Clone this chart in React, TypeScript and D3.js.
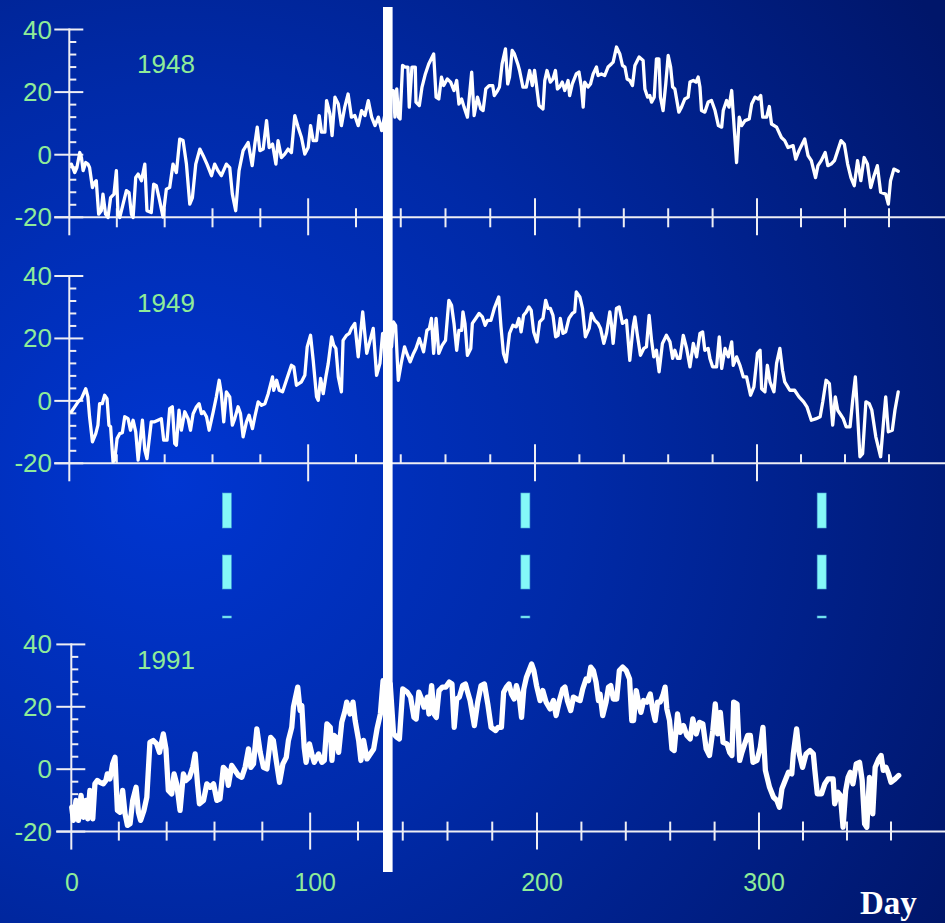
import { useEffect } from 'react';
import * as d3 from 'd3';

type Pt = [number, number];

// daily temperature readings, [day of year, value]
const temp1948: Pt[] = [
  [1, -3], [2.4, -5.7], [3.3, -4.1], [4.5, 0.7], [5.2, -0.9], [5.9, -5.1], [7, -2.5], [7.9, -3], [8.6, -4.1],
  [9.8, -10.5], [10.7, -8.9], [11.4, -8.3], [12.4, -19], [13.5, -17.9], [14.2, -12.6], [15.3, -19], [16.3, -20.1],
  [17.4, -13.7], [18.8, -12.6], [19.8, -5.1], [20.5, -19], [21.2, -20.1], [22.6, -15.8], [24, -11.5], [25.1, -12.1],
  [26.1, -19], [26.8, -20.1], [27.9, -7.3], [28.9, -6.2], [30.3, -8.3], [31.7, -3], [32.6, -17.9], [34.4, -18.5],
  [35.4, -9.4], [36.5, -9.9], [37.9, -14.7], [39.3, -19.9], [40.7, -11], [42.1, -10.5], [43.5, -3], [44.9, -5.7],
  [46.3, 5], [47.7, 4.5], [49.1, -3], [50.5, -15.8], [51.6, -13.7], [53, -3], [54.7, 1.8], [56.1, -0.3], [57.7, -3],
  [59.6, -6.7], [60.9, -3], [62.3, -5.1], [63.7, -6.7], [65.8, -3], [67.2, -4.1], [68.3, -12.6], [69.7, -17.9],
  [71.1, -5.1], [72.8, 1.3], [74.9, 3.9], [76.6, -3.5], [77.7, 3.4], [78.7, 8.8], [79.8, 1.3], [81.2, 1.8],
  [82.6, 10.9], [83.7, 2.3], [85.1, 3.4], [86.5, -3], [87.4, 4.5], [88.8, -0.9], [90.2, 0.2], [91.6, 1.8], [93, 0.7],
  [94.4, 12.5], [95.8, 8.8], [97.2, 5.5], [98.6, 0.2], [100, 2.3], [101, 9.3], [102.1, 4.5], [103.5, 4.5],
  [104.6, 12.5], [105.6, 7.2], [107, 7.2], [107.7, 17.3], [109.1, 13], [110, 6.1], [111.2, 18.4], [112.6, 16.2],
  [113.9, 9.3], [115.3, 15.2], [116.7, 19.4], [118.1, 12], [119.5, 12.5], [121, 9.3], [122.5, 14.1], [124, 12.5],
  [125.5, 17.3], [127, 12], [128.5, 9.3], [130, 12], [131.5, 7.7], [133.5, 15], [135.2, 20.5], [136.7, 20.5],
  [137.4, 12], [138.2, 21], [139, 12], [139.7, 11.4], [140.8, 28.5], [142, 28], [143.2, 28], [143.8, 15.2],
  [145, 28], [146.5, 28], [146.8, 16.8], [148.3, 15.7], [149.5, 21.6], [151, 25.8], [152.5, 29], [154.7, 32.2],
  [155.8, 18.4], [157, 17.8], [158.2, 24.8], [159.2, 22.1], [160.8, 24.2], [162.3, 23.2], [163.8, 20.5], [165, 23.7],
  [166, 16.2], [167.2, 17.8], [168.3, 15.2], [169.8, 12], [171.7, 26.4], [172.8, 12.5], [174.3, 18.4], [175.8, 14.6],
  [176.8, 14.1], [178, 21], [179.5, 22.1], [181.1, 22.1], [181.8, 18.9], [183.3, 20.5], [184.1, 21.6], [185.3, 29],
  [186.8, 33.8], [187.8, 22.6], [188.6, 24.8], [189.8, 33.3], [190.8, 32.2], [192.3, 29], [193.1, 26.9], [194.6, 21.6],
  [196.1, 21.6], [197.6, 26.9], [198.8, 22.1], [199.8, 26.9], [200.6, 22.6], [201.8, 15.7], [203.6, 14.6],
  [204.4, 23.7], [205.4, 26.9], [206.9, 23.2], [208.1, 24.2], [209.2, 26.9], [210.1, 21], [211.1, 21.6], [212.3, 23.2],
  [213.4, 20.5], [214.9, 23.7], [215.6, 18.9], [216.8, 22.6], [218.6, 25.8], [219.8, 26.4], [220.9, 21.6],
  [221.7, 15.2], [222.4, 23.2], [223.9, 21.6], [225, 22.6], [226.2, 25.8], [227.7, 28], [228.4, 25.3], [229.9, 25.8],
  [231.4, 25.3], [232.9, 28], [234.4, 29], [235.2, 29.6], [236.7, 34.4], [238.2, 32.2], [239.4, 28.5], [240.5, 28],
  [241.5, 24.2], [242.7, 23.7], [243.9, 22.1], [245, 28.5], [246.9, 31.2], [248.7, 30.1], [249.5, 21], [250.7, 18.4],
  [251.7, 18.9], [252.5, 16.8], [253.7, 18.4], [254.7, 30.6], [255.8, 30.6], [256.5, 18.4], [257.7, 14.1],
  [258.9, 22.6], [260, 31.7], [261.1, 28], [262, 21.6], [263, 21], [264.8, 13.6], [266, 15.2], [267.5, 17.8],
  [269, 18.4], [269.8, 23.2], [271.3, 23.7], [272.5, 23.2], [273.5, 24.8], [274.3, 21.6], [275, 14.1], [276.5, 13.6],
  [278, 16.8], [279.5, 17.3], [281.1, 14.1], [282.6, 9.3], [284.1, 8.8], [284.8, 14.1], [286.3, 17.3], [287.4, 15.2],
  [288.6, 20.5], [289.3, 13], [290.8, -2.5], [292, 12], [293.1, 9.3], [294.6, 10.9], [296.5, 11.4], [297.6, 16.2],
  [299.1, 18.4], [300.6, 17.8], [301.7, 18.9], [302.6, 12], [304.4, 12], [305.6, 15.4], [306.6, 9.8], [308.9, 8.8],
  [311.1, 5.5], [312.6, 4.5], [314.1, 2.3], [316.4, 2.9], [317.6, -1.4], [319.1, 1.3], [321.7, 5], [323.2, -0.3],
  [324.7, -1.9], [326.6, -7.3], [327.7, -3.5], [329.2, -1.9], [331, 0.7], [332.2, -3.5], [333.7, -3], [335.2, -1.9],
  [336.7, 1.3], [338.2, 4.5], [339.7, 3.4], [341.2, -3], [342.7, -7.3], [344.2, -9.9], [345.7, -1.9], [347.2, -8.3],
  [348.7, -0.9], [350.2, -3], [351.7, -10.5], [353.2, -6.7], [354.7, -3.5], [356.2, -12], [358.5, -12.6],
  [359.7, -15.8], [360.7, -8.3], [362.2, -4.6], [364.2, -5.3],
];

const temp1949: Pt[] = [
  [1, -3.5], [2.4, -1.9], [3.8, -0.3], [5.2, 0.7], [7, 3.9], [7.9, 1.3], [8.6, -5.1], [9.8, -13.1], [11.2, -10.5],
  [12.1, -7.8], [12.8, -0.9], [13.9, -0.9], [14.9, 1.8], [15.9, 0.7], [16.7, -7.8], [17.4, -8.3], [18.4, -19.5],
  [19.1, -19], [20.1, -12.1], [21.2, -10.5], [22.3, -10.2], [23.3, -5.1], [24.7, -5.7], [25.7, -9.4], [26.8, -6.2],
  [27.9, -9.9], [28.9, -19], [30.7, -6.2], [31.7, -15.8], [32.6, -18.5], [34.4, -6.7], [35.8, -6.7], [37.2, -6.2],
  [38.6, -5.7], [39.6, -12.6], [41, -12.6], [42.1, -2.5], [43.2, -1.9], [44.2, -13.7], [44.9, -14.2], [46, -3],
  [47, -9.4], [48.4, -3.5], [49.8, -5.7], [50.8, -9.4], [51.9, -4.1], [53.3, -1.9], [54.4, -0.9], [55.4, -4.1],
  [56.3, -3.5], [57.5, -5.1], [58.6, -9.4], [60.3, -3.5], [61.6, 1.3], [62.8, 6.6], [63.7, 2.3], [64.7, -6.7],
  [65.8, 2.9], [67.2, 1.3], [68.3, -7.8], [69.3, -5.7], [70.7, -1.9], [71.7, -4.1], [72.8, -11.5], [74.2, -6.7],
  [75.3, -4.6], [76.7, -8.9], [77.7, -5.1], [79.1, -0.3], [80.5, -1.4], [81.9, -0.9], [83.3, 2.3], [85.1, 7.7],
  [85.6, 3.4], [86.8, 6.6], [87.9, 3.4], [89.3, 2.9], [90.9, 6.6], [93, 11.4], [94, 10.9], [95.1, 5], [97.2, 6.1],
  [98.6, 8.2], [99.6, 17.3], [101, 21], [102.1, 13], [103.5, 1.3], [104.2, 0.2], [105.2, 7.2], [106.3, 2.3],
  [107.4, 7.7], [108.4, 12], [109.8, 20.5], [110.7, 17.8], [111.6, 16.8], [112.6, 7.7], [113.9, 2.9], [114.6, 19.4],
  [116, 21], [117.2, 21.6], [118.1, 23.2], [119.5, 24.8], [121, 14.1], [123, 28.5], [124.8, 15.2], [126.3, 19.4],
  [127.7, 23.2], [129.2, 8.2], [130.7, 12], [131.9, 21.6], [133.5, 22], [135.2, 25.3], [135.9, 17.3], [136.7, 25.3],
  [137.7, 24.2], [138.9, 6.6], [140.2, 12], [141.7, 17.3], [142.7, 15.2], [144.2, 12.5], [145.7, 15.2], [146.8, 16.8],
  [148.3, 20], [149.5, 17.3], [150.2, 15.7], [151.7, 22.6], [152.8, 23.2], [153.7, 26.4], [154.7, 15.2], [155.8, 26.4],
  [157, 15.2], [158.5, 17.8], [160, 19.4], [161.5, 32.2], [162.7, 30.6], [163.8, 24.8], [165, 16.2], [166, 22.6],
  [167.2, 22.6], [167.8, 28.5], [168.7, 24.8], [169.8, 14.6], [171.3, 16.8], [172, 24.8], [173.5, 26.4], [175, 28],
  [176.5, 26.9], [177.7, 24.2], [178.8, 25.8], [180.3, 25.8], [181.8, 29.6], [183.8, 33.3], [184.8, 23.7],
  [185.9, 15.2], [187.1, 12.5], [188.6, 21.6], [190.1, 24.2], [191.6, 23.7], [192.8, 26.4], [193.8, 22.1],
  [194.9, 27.4], [196.1, 28.5], [197.3, 30.1], [198.3, 29], [199.4, 22.1], [200.9, 18.9], [202.1, 25.3], [203.6, 26.4],
  [204.8, 32.2], [205.9, 29.6], [206.9, 29.6], [208.1, 27.4], [209.3, 20.5], [210.4, 21], [211.4, 26.4], [212.6, 21.6],
  [213.8, 22.1], [215.3, 26.4], [216.8, 28], [217.9, 28.5], [218.6, 34.9], [220.2, 33.3], [221.4, 29.6], [222.7, 20.5],
  [224.4, 23.2], [225.4, 28], [226.9, 25.8], [228.4, 24.8], [229.5, 23.2], [231, 18.4], [232.2, 21.6], [233.7, 28.5],
  [234.4, 24.8], [235.2, 18.4], [236.7, 29.6], [237.9, 30.1], [239.4, 24.8], [241.2, 25.8], [242.7, 13], [244.2, 23.7],
  [245, 26.9], [246, 21.6], [247.5, 14.6], [249, 16.8], [250.2, 17.3], [251.4, 27.4], [252.5, 19.4], [253.5, 14.1],
  [254.7, 16.2], [255.9, 9.3], [257.4, 18.4], [259.2, 21], [260.8, 18.9], [262, 13.6], [263, 16.2], [264.2, 13.6],
  [265.3, 13.6], [266.8, 21], [268.3, 16.8], [269.8, 10.9], [271.3, 18.4], [272.8, 14.1], [274.3, 21.6], [275.5, 22.1],
  [276.5, 16.2], [278, 16.8], [278.8, 13.6], [280, 10.9], [281.8, 10.9], [283, 20.5], [284.1, 10.4], [285.6, 16.8],
  [287.1, 14.1], [288.6, 18.9], [289.3, 11.4], [290.8, 14.1], [292.3, 11.4], [293.8, 7.7], [295.3, 7.7], [297.1, 1.8],
  [298.6, 4.5], [300.2, 15.2], [301.4, 16.2], [302.1, 3.9], [303.6, 2.9], [304.7, 11.4], [305.9, 6.1], [307.7, 2.9],
  [308.9, 12], [310.4, 16.8], [311.6, 9.8], [312.6, 6.1], [314.9, 3.4], [317.1, 3.4], [319.1, 1.3], [321.2, -0.3],
  [322.7, -1.9], [324.7, -6.2], [326.9, -5.7], [328.7, -5.1], [329.9, -0.3], [331.4, 6.6], [332.9, 5.5], [334.4, -7.8],
  [335.6, 1.3], [336.7, -3], [338.2, -4.6], [339.2, -5.7], [340.5, -8.3], [342.3, -8.3], [343.5, 0.2], [344.7, 7.7],
  [345.7, -4.1], [346.8, -17.9], [348, -16.9], [349.5, -0.3], [351, -0.9], [352.2, -3], [354, -11.5], [356.2, -17.9],
  [357.7, -5.1], [358.5, 1.3], [359.7, -9.9], [361.5, -9.4], [362.7, -3], [364.2, 2.9],
];

const temp1991: Pt[] = [
  [0.3, -12.2], [1, -16.4], [2.1, -10], [3.1, -16.4], [4.2, -8.4], [5.2, -15.4], [6.3, -10], [7, -15.9], [7.9, -6.8],
  [9.1, -15.9], [10, -4.7], [11, -3.6], [12.1, -4.2], [13.5, -4.7], [14.6, -3.6], [15.2, -1.5], [16.3, -3.1],
  [17.4, 1.7], [18.4, 3.8], [19.4, -13.2], [20.5, -13.8], [21.6, -6.8], [22.6, -14.3], [23.6, -18], [24.7, -17.5],
  [25.8, -10], [27.2, -5.8], [28.2, -13.8], [29.1, -16.4], [30.5, -13.2], [31.7, -9], [33, 8.6], [34.4, 9.2],
  [35.8, 8.1], [37, 5.4], [38.6, 11.3], [39.7, 6.5], [40.7, -6.8], [42.1, -7.9], [43.1, -1.5], [44.2, -4.7],
  [45.6, -13.2], [47, -1.5], [48.1, -3.6], [49.5, -2.6], [50.9, 0.6], [51.9, 4.9], [52.9, -4.7], [53.7, -11.1],
  [55.4, -10], [56.8, -4.7], [58.2, -5.8], [59.6, -4.7], [61, -10], [62.3, -9.5], [63.7, 0.6], [64.9, -0.4],
  [65.8, -5.2], [67.2, 1.2], [68.6, -0.4], [70, -2], [71.4, -2.6], [72.8, 0.6], [74.2, 6.5], [75.2, 0.6], [76.3, 1.7],
  [77.7, 12.9], [79.1, 5.4], [80.5, 0.6], [81.9, 0.1], [83.5, 10.2], [84.6, 9.2], [85.8, 2.8], [87.2, -4.2],
  [88.6, 1.7], [90, 3.8], [90.9, 9.2], [92.3, 13.4], [93, 19.9], [94.8, 26.3], [95.8, 18.8], [96.5, 20.4], [97.5, 7],
  [98.3, 2.2], [99.7, 8.1], [100.7, 4.9], [101.7, 2.2], [103.5, 4.9], [104.9, 2.2], [105.9, 2.8], [107, 14.5],
  [108.4, 13.4], [109.1, 2.8], [110, 10.8], [110.9, 10.2], [111.9, 5.4], [113.2, 15], [114.6, 18.8], [115.3, 21.5],
  [116.7, 17.7], [117.9, 21.5], [118.8, 15.6], [120.3, 9.2], [121.3, 2.8], [122.5, 9.2], [124, 3.3], [125.5, 4.9],
  [127, 6.5], [128.5, 12.9], [130, 17.7], [131.2, 28.4], [133, 28], [134.4, 27.3], [135.9, 11.3], [137.4, 10.2],
  [138.5, 9.7], [140, 25.7], [142, 24.7], [143.5, 23.1], [145, 16.6], [146, 16.1], [147.2, 24.7], [148.4, 22.5],
  [149.5, 19.9], [151, 23.1], [151.7, 17.7], [152.9, 26.8], [154, 17.7], [155, 16.6], [156.2, 25.2], [157.7, 26.3],
  [159.2, 26.3], [160.8, 27.9], [162, 27.3], [163, 13.4], [164.1, 22.5], [165.3, 23.1], [166.8, 26.8], [168, 27.3],
  [169, 24.7], [170.1, 22], [172, 14], [173.5, 21.5], [175, 26.8], [176.5, 27.3], [178, 20.9], [179.5, 13.4],
  [181.5, 12.4], [182.6, 13.4], [184.1, 13.4], [185.1, 24.7], [186.3, 26.3], [187.5, 27.3], [188.6, 24.1],
  [189.8, 22.5], [190.8, 26.8], [192, 23.6], [193.1, 16.6], [194.1, 25.7], [195.3, 29.5], [197.6, 33.7], [198.6, 31.6],
  [199.8, 26.8], [201.4, 22], [202.6, 25.2], [204.1, 21.5], [205.9, 19.3], [207.4, 22], [208.6, 17.2], [210.1, 22],
  [211.6, 25.7], [212.6, 26.3], [213.7, 22], [215.2, 18.8], [216.4, 23.1], [217.9, 22.5], [219.4, 22], [220.6, 25.7],
  [222.1, 28.9], [223.2, 28.4], [224.2, 32.7], [225.4, 31.6], [226.6, 27.9], [227.7, 22], [228.4, 24.1], [229.6, 17.2],
  [231.1, 21.5], [232.2, 26.3], [233.2, 26.8], [234.4, 22.5], [235.9, 22.5], [237.1, 31.6], [238.6, 32.7],
  [240.2, 31.6], [241.7, 28.9], [242.7, 15.6], [243.5, 15.6], [244.7, 25.2], [245.7, 21.5], [246.8, 18.2], [248, 22],
  [249.5, 21.5], [251, 24.1], [252.2, 18.8], [253.2, 15.6], [254.3, 21.5], [255.5, 21.5], [256.7, 23.6], [257.7, 26.3],
  [258.5, 19.3], [259.7, 15.6], [260.8, 6.5], [261.8, 6], [263.3, 17.7], [264.5, 11.8], [266, 14], [267.5, 10.8],
  [269, 9.7], [270.2, 16.1], [271.7, 11.3], [273.2, 15], [274.7, 14.5], [276.2, 6.5], [277.7, 4.4], [279.2, 12.4],
  [280.3, 20.9], [281.4, 11.3], [282.6, 18.2], [283.8, 8.6], [285.6, 8.1], [286.8, 5.4], [287.8, 4.4], [288.6, 21.5],
  [290.1, 20.9], [291.3, 2.8], [292.3, 5.4], [293.8, 8.6], [294.9, 10.8], [296.1, 10.8], [297.3, 2.2], [299.1, 2.8],
  [300.6, 7], [301.8, 13.4], [302.9, -0.4], [304.8, -5.8], [306.6, -9], [308.1, -10], [309.3, -12.2], [310.4, -6.3],
  [311.9, -3.6], [313.4, -1], [314.9, -1.5], [315.6, 4.9], [317.1, 12.9], [318.3, 4.9], [319.8, 0.6], [321.4, 4.9],
  [323.2, 6], [324.7, 4.9], [325.4, -0.4], [326.5, -7.9], [328.4, -7.9], [329.9, -4.7], [331.4, -3.1], [333.7, -3.1],
  [334.4, -11.1], [335.9, -7.4], [337, -8.4], [338.2, -18.6], [339.4, -6.8], [340.5, -2.6], [341.5, -1], [342.7, -4.7],
  [344.2, 1.7], [345.7, 2.2], [346.9, -3.6], [348, -17.5], [349, -18.6], [350.2, -2.6], [351.7, -14.3], [352.8, 0.6],
  [354.4, 3.3], [355.5, 4.4], [356.5, -0.4], [357.7, 0.6], [358.9, -1.5], [360, -4.2], [361.9, -3.1], [363.5, -2],
];

const series = [temp1948, temp1949, temp1991];
const yearLabels = ['1948', '1949', '1991'];
const yDomain: [number, number] = [-20, 40];
const yLabelTicks = [40, 20, 0, -20];
const yMinorTicks = d3.range(-16, 40, 4).filter(v => v % 20 !== 0);
const xTicks = d3.range(20, 361, 20);
const xLongTicks = [100, 200, 300];
const xLabelTicks = [0, 100, 200, 300];
// the source figure's day axis is not uniform: days 0-120 are wider than the rest
const dayBreaks = [0, 120, 200, 300, 360];
const dayPixels = [69, 356, 535, 757, 889];
const gapDays = [66, 195.7, 329.4];

const W = 945;
const H = 923;
const GREEN = '#8fec98';
const AXIS = '#eeeef4';
const FONT = '"Liberation Sans", Arial, Helvetica, sans-serif';

const panels = [
  { top: 29.5, bottom: 217.3, shift: 0, stroke: 3.3, minorUp: 9, minorDown: 10, labelY: 73 },
  { top: 276, bottom: 463.3, shift: 0, stroke: 3.3, minorUp: 9, minorDown: 0, labelY: 312 },
  { top: 644.4, bottom: 831.6, shift: 2, stroke: 5.3, minorUp: 10, minorDown: 9, labelY: 669 },
];

function Panel({ idx }: { idx: number }) {
  const p = panels[idx];
  const x = d3.scaleLinear().domain(dayBreaks).range(dayPixels.map(v => v + p.shift));
  const y = d3.scaleLinear().domain(yDomain).range([p.bottom, p.top]);
  const line = d3.line<Pt>().x(d => x(d[0])).y(d => y(d[1]));
  const ax = x(0) + 0.3;

  return (
    <g>
      {/* y axis */}
      <line x1={ax} x2={ax} y1={y(40) - 1} y2={p.bottom + 18} stroke={AXIS} strokeWidth={2} />
      {yLabelTicks.map(v => (
        <line key={'yt' + v} x1={ax - 15} x2={ax + 14} y1={y(v)} y2={y(v)} stroke={AXIS} strokeWidth={2} />
      ))}
      {yMinorTicks.map(v => (
        <line key={'ym' + v} x1={ax} x2={ax + 7} y1={y(v)} y2={y(v)} stroke={AXIS} strokeWidth={2} />
      ))}
      {yLabelTicks.map(v => (
        <text key={'yl' + v} x={52} y={y(v) + 9} textAnchor="end" fill={GREEN} fontSize={26} fontFamily={FONT}>
          {v}
        </text>
      ))}
      {/* x axis */}
      <line x1={ax - 15} x2={W} y1={p.bottom} y2={p.bottom} stroke={AXIS} strokeWidth={2} />
      {xTicks.map(v => {
        const long = xLongTicks.includes(v);
        return (
          <line
            key={'xt' + v}
            x1={x(v)}
            x2={x(v)}
            y1={p.bottom - (long ? 19 : p.minorUp)}
            y2={p.bottom + (long ? 18 : p.minorDown)}
            stroke={AXIS}
            strokeWidth={2}
          />
        );
      })}
      <text x={137} y={p.labelY} fill={GREEN} fontSize={26} fontFamily={FONT}>
        {yearLabels[idx]}
      </text>
      <path
        d={line(series[idx]) || ''}
        fill="none"
        stroke="#ffffff"
        strokeWidth={p.stroke}
        strokeLinejoin="round"
        strokeLinecap="round"
      />
    </g>
  );
}

export default function App() {
  useEffect(() => {
    document.body.style.margin = '0';
    document.body.style.overflow = 'hidden';
  }, []);

  const xBottom = d3.scaleLinear().domain(dayBreaks).range(dayPixels.map(v => v + 2));
  const xMid = d3.scaleLinear().domain(dayBreaks).range(dayPixels);
  const dashes = [
    [493, 528],
    [555, 589],
    [616, 618],
  ];

  return (
    <svg width={W} height={H} style={{ display: 'block' }}>
      <defs>
        <radialGradient id="bg" cx="0.18" cy="0.52" r="0.95">
          <stop offset="0%" stopColor="#0036d2" />
          <stop offset="45%" stopColor="#002aa8" />
          <stop offset="100%" stopColor="#00166a" />
        </radialGradient>
      </defs>
      <rect x={0} y={0} width={W} height={H} fill="url(#bg)" />

      {panels.map((_, i) => (
        <Panel key={i} idx={i} />
      ))}

      {/* vertical ellipsis between 1949 and 1991 */}
      {gapDays.map(d =>
        dashes.map(([a, b], j) => (
          <rect
            key={d + '-' + j}
            x={xMid(d) - 4.5}
            y={a}
            width={9}
            height={b - a}
            fill="#84f8f8"
            stroke="#4aa8d8"
            strokeWidth={0.6}
          />
        ))
      )}

      {/* marker bar */}
      <rect x={383} y={7} width={9.6} height={865} fill="#ffffff" />

      {xLabelTicks.map(v => (
        <text
          key={'xl' + v}
          x={xBottom(v) + (v === 0 ? 1 : 5)}
          y={891}
          textAnchor="middle"
          fill={GREEN}
          fontSize={25}
          fontFamily={FONT}
        >
          {v}
        </text>
      ))}
      <text
        x={860}
        y={914}
        fill="#ffffff"
        fontSize={33}
        fontWeight="bold"
        fontFamily='"Liberation Serif", "Times New Roman", serif'
      >
        Day
      </text>
    </svg>
  );
}
